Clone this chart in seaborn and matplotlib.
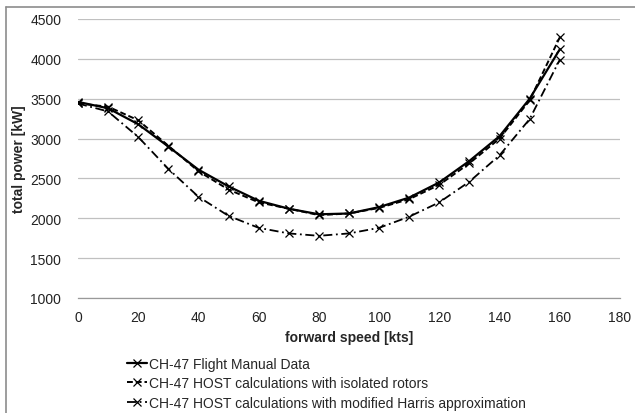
import matplotlib
matplotlib.use("Agg")
import matplotlib.pyplot as plt
import matplotlib.lines as mlines
import seaborn as sns
import pandas as pd

# forward speed [kts]
speed = [0, 10, 20, 30, 40, 50, 60, 70, 80, 90, 100, 110, 120, 130, 140, 150, 160]

# total power [kW]
flight_manual = [3460, 3380, 3180, 2900, 2610, 2400, 2220, 2120, 2050, 2060,
                 2140, 2260, 2450, 2720, 3030, 3500, 4120]
host_isolated = [3440, 3400, 3230, 2910, 2590, 2360, 2200, 2120, 2040, 2060,
                 2130, 2240, 2420, 2690, 3000, 3480, 4270]
host_harris = [3440, 3340, 3020, 2620, 2270, 2030, 1880, 1810, 1780, 1810,
               1880, 2020, 2200, 2460, 2790, 3245, 3990]

labels = ["CH-47 Flight Manual Data",
          "CH-47 HOST calculations with isolated rotors",
          "CH-47 HOST calculations with modified Harris approximation"]

x_ticks = [0, 20, 40, 60, 80, 100, 120, 140, 160, 180]
y_ticks = [1000, 1500, 2000, 2500, 3000, 3500, 4000, 4500]

sns.set_theme(style="white")
plt.rcParams["font.family"] = ["Liberation Sans", "DejaVu Sans"]

fig = plt.figure(figsize=(6.35, 4.14), dpi=100)
ax = fig.add_axes([0.1228, 0.2778, 0.8536, 0.6739])

styles = [
    dict(linestyle="-", linewidth=1.6),
    dict(linestyle=(0, (3.0, 1.5)), linewidth=1.4),
    dict(linestyle=(0, (5.0, 2.0, 1.0, 2.0)), linewidth=1.3),
]
series = [flight_manual, host_isolated, host_harris]

for vals, lab, st in zip(series, labels, styles):
    df = pd.DataFrame({"speed": speed, "power": vals})
    sns.lineplot(data=df, x="speed", y="power", ax=ax, color="black",
                 label=lab, legend=False)
    line = ax.lines[-1]
    line.set_linestyle(st["linestyle"])
    line.set_linewidth(st["linewidth"])
    line.set_marker("x")
    line.set_markersize(6.0)
    line.set_markeredgewidth(0.9)
    line.set_markeredgecolor("black")
    line.set_markerfacecolor("black")

ax.set_xlim(0, 180)
ax.set_ylim(1000, 4500)
ax.set_xticks(x_ticks)
ax.set_yticks(y_ticks)
ax.tick_params(axis="both", labelsize=10, colors="#222222")
ax.tick_params(axis="x", direction="out", length=5, width=0.8, color="#999999", pad=4)
ax.tick_params(axis="y", length=0, pad=12)
ax.yaxis.grid(True, color="#c0c0c0", linewidth=0.9)
ax.xaxis.grid(False)
for side in ["top", "right", "left"]:
    ax.spines[side].set_visible(False)
ax.spines["bottom"].set_color("#999999")
ax.spines["bottom"].set_linewidth(0.9)

ax.set_xlabel("forward speed [kts]", fontsize=10, fontweight="bold", labelpad=4)
ax.set_ylabel("total power [kW]", fontsize=10, fontweight="bold", labelpad=3)

handles, labs = ax.get_legend_handles_labels()
fig.legend(handles, labs, loc="upper left", bbox_to_anchor=(0.2, 0.136),
           frameon=False, fontsize=10, handlelength=1.45, handletextpad=0.15,
           labelspacing=0.4, borderaxespad=0, borderpad=0)

# grey frame lines along the left and top of the figure
for xs, ys in [([0.010, 0.010], [-0.01, 0.981]), ([0.010, 1.01], [0.981, 0.981])]:
    fig.add_artist(mlines.Line2D(xs, ys, transform=fig.transFigure,
                                 color="#8c8c8c", linewidth=1.2))

fig.savefig("out.png", dpi=100, facecolor="white")
